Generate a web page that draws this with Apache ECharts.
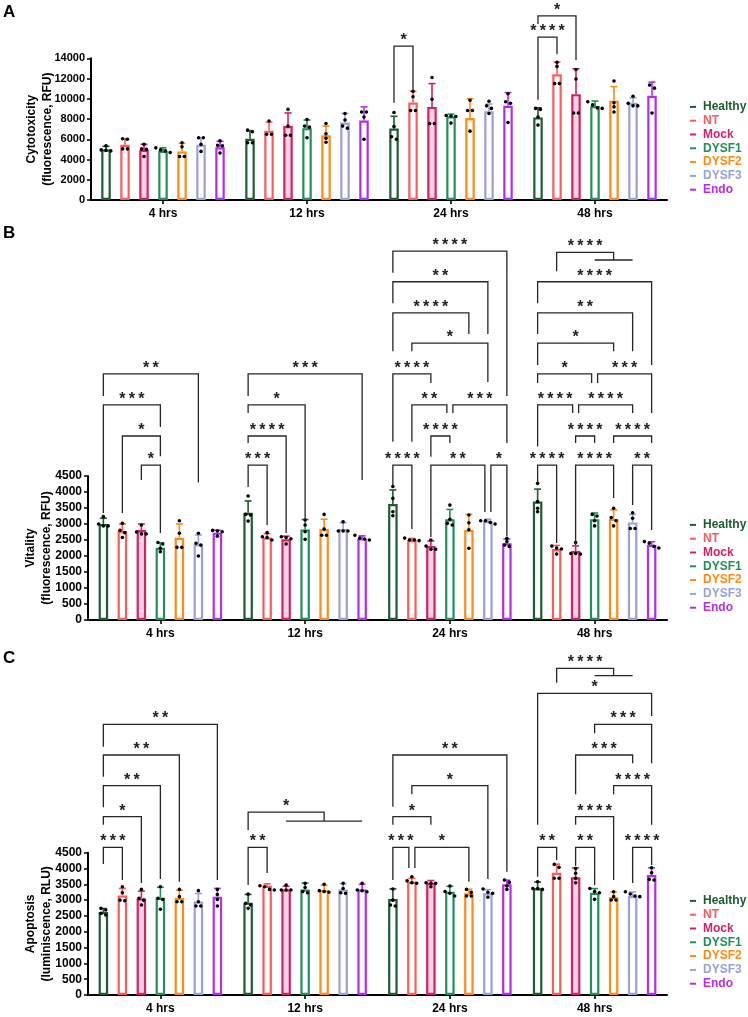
<!DOCTYPE html>
<html><head><meta charset="utf-8">
<script src="https://cdn.jsdelivr.net/npm/echarts@6/dist/echarts.min.js"></script>
<style>html,body{margin:0;padding:0;background:#fff}#c{width:748px;height:1017px}</style>
</head><body><div id="c"></div>
<script>
// ---------------- DATA ----------------
const groups = ['Healthy','NT','Mock','DYSF1','DYSF2','DYSF3','Endo'];
const timepoints = ['4 hrs','12 hrs','24 hrs','48 hrs'];

const cytoTicks = [0,2000,4000,6000,8000,10000,12000,14000];
const vitaTicks = [0,500,1000,1500,2000,2500,3000,3500,4000,4500];
const apopTicks = [0,500,1000,1500,2000,2500,3000,3500,4000,4500];

// means [group][timepoint]
const cytoMean = [
  [5000,6050,7070,8160],[5450,6850,9630,12430],[4950,7300,9200,10460],[4850,7100,8280,9280],
  [4800,6400,8100,9800],[5450,7650,8780,9600],[5200,7850,9310,10300]];
const cytoSD = [
  [300,800,1200,950],[600,850,1100,1200],[550,1300,2300,2500],[300,800,200,500],
  [800,900,1900,1400],[700,900,700,500],[600,1350,1300,1350]];
const cytoPts = [
  [[5350,4950,4900,4850],[6900,6750,5650,5650],[8650,7250,6250,6000],[9050,8950,8200,7400]],
  [[6050,6000,5050,5050],[7800,6500,6500],[10750,10200,8850,8850],[13600,13200,11500,11500]],
  [[5500,5050,5000,4300],[8950,7300,6400,6400],[12100,9950,7550,7550],[12900,11950,8600,8600]],
  [[5150,4950,4850,4700],[7950,7300,7200,6150],[8350,8300,8250,7600],[9700,9400,9100,9050]],
  [[5650,5250,4300,4300],[7550,6550,6100,5700],[9850,8850,8850,6800],[11750,9600,9200,8700]],
  [[6150,6150,5500,4800],[8550,7900,7300,7100],[9750,9300,9050,8550],[10250,9550,9300,9300]],
  [[5850,5400,5350,4650],[8700,8700,8200,6000],[10500,9700,9550,7650],[11350,11050,8600]]];

const vitaMean = [
  [3000,3350,3625,3700],[2780,2580,2500,2220],[2810,2520,2310,2155],[2260,2830,3145,3145],
  [2570,2840,2810,3160],[2365,2840,3090,3050],[2730,2550,2400,2345]];
const vitaSD = [
  [180,370,440,390],[220,120,50,110],[190,100,160,160],[150,310,310,200],
  [430,310,490,280],[290,200,60,250],[80,80,130,100]];
const vitaPts = [
  [[3230,3000,2940,2940],[3875,3300,3280,3090],[4170,3800,3385,3260],[4270,3700,3490,3385]],
  [[3020,2800,2730,2580],[2730,2600,2580,2500],[2560,2500,2500,2480],[2310,2250,2220,2060]],
  [[2970,2750,2690,2690],[2600,2580,2540,2375],[2500,2310,2210,2210],[2420,2080,2080,2060]],
  [[2420,2375,2240,2135],[3125,2970,2760,2520],[3590,3150,3020,2970],[3300,3250,3100,2940]],
  [[3100,2710,2270,2270],[3300,2840,2650,2650],[3280,3040,2820,2240],[3490,3200,3100,2940]],
  [[2710,2400,2340,2000],[3070,2780,2780,2780],[3100,3100,3050,3000],[3350,3180,2860,2860]],
  [[2800,2780,2760,2620],[2650,2560,2530,2500],[2550,2450,2340,2300],[2450,2400,2300,2250]]];

const apopMean = [
  [2624,2920,3035,3372],[3150,3456,3583,3867],[3055,3340,3550,3720],[3077,3340,3267,3235],
  [3066,3320,3214,3088],[2960,3340,3214,3130],[3110,3340,3500,3793]];
const apopSD = [
  [110,260,320,200],[220,60,110,270],[230,100,70,300],[330,200,170,130],
  [250,150,130,170],[250,180,120,130],[260,160,130,230]];
const apopPts = [
  [[2740,2690,2580,2530],[3190,2900,2845,2740],[3350,3000,2845,2815],[3580,3370,3370,3340]],
  [[3425,3235,3000,2980],[3456,3425,3340,3320],[3740,3610,3550,3530],[4130,4036,3690,3690]],
  [[3340,3056,3000,2845],[3477,3320,3320,3320],[3550,3530,3530,3425],[4000,3850,3690,3550]],
  [[3425,3056,3020,2710],[3530,3400,3270,3235],[3445,3270,3214,3130],[3370,3270,3235,3024]],
  [[3340,3110,2950,2950],[3500,3300,3270,3250],[3340,3250,3130,3130],[3267,3110,3003,3003]],
  [[3300,2950,2815,2815],[3530,3370,3235,3214],[3350,3250,3214,3090],[3267,3193,3130,3110]],
  [[3340,3180,3020,2815],[3530,3320,3298,3267],[3635,3560,3446,3340],[4025,3867,3656,3635]]];

// significance brackets: [timepoint, groupA, groupB (or [from,to] pooled), lineValue, legA end, legB end (or pooled bar), label, dxA, dxB]
const cytoSig = [
  [2,0,1,15200,9600,10900,'*'],
  [3,0,1,16100,9900,14400,'****'],
  [3,0,2,18200,17400,13800,'*']];
const vitaSig = [
  [0,0,5,7690,7000,4300,'**'],
  [0,0,3,6720,3340,6030,'***'],
  [0,1,3,5750,3340,5120,'*'],
  [0,2,3,4840,4375,2720,'*'],
  [1,0,6,7690,7000,4375,'***'],
  [1,0,3,6720,6470,3125,'*'],
  [1,0,2,5750,5530,2720,'****'],
  [1,0,1,4840,4156,2970,'***'],
  [2,0,6,11530,10850,7000,'****'],
  [2,0,5,10570,9900,8940,'**'],
  [2,0,4,9600,8400,8940,'****'],
  [2,1,5,8650,8400,7440,'*'],
  [2,0,2,7690,5570,7410,'****'],
  [2,1,3,6720,5570,6470,'**',0,-3],
  [2,3,6,6720,6470,5530,'***',3,0],
  [2,2,3,5750,5100,5530,'****'],
  [2,0,1,4840,4220,2840,'****'],
  [2,2,5,4840,2590,3375,'**',0,-3],
  [2,5,6,4840,3375,2625,'*',3,0],
  [3,1,[3,5],11490,10900,11250,'****'],
  [3,0,6,10570,9900,7970,'****'],
  [3,0,5,9600,8940,8400,'**'],
  [3,0,4,8650,7970,8400,'*'],
  [3,0,3,7690,7410,7410,'*',0,-3],
  [3,3,6,7690,7410,6470,'***',3,0],
  [3,0,2,6720,5420,6470,'****',0,-3],
  [3,2,5,6720,6470,6470,'****',3,0],
  [3,2,3,5750,5530,5530,'****'],
  [3,4,6,5750,5530,5530,'****'],
  [3,0,1,4840,4280,2410,'****'],
  [3,2,4,4840,2340,3810,'****'],
  [3,5,6,4840,3590,2810,'**']];
const apopSig = [
  [0,0,6,8560,7850,3640,'**'],
  [0,0,4,7590,6900,3580,'**'],
  [0,0,3,6620,5940,3670,'**'],
  [0,0,2,5640,5380,3540,'*'],
  [0,0,1,4670,4140,3640,'***'],
  [1,0,[2,6],5780,5220,5500,'*'],
  [1,0,1,4670,3480,3860,'**'],
  [2,0,6,7590,5950,3900,'**'],
  [2,1,5,6620,6350,3670,'*'],
  [2,0,2,5640,5380,5380,'*'],
  [2,0,1,4670,3640,4020,'***',0,-3],
  [2,1,4,4670,4020,3580,'*',3,0],
  [3,1,[3,5],10330,9875,10100,'****'],
  [3,0,6,9540,5380,8820,'*'],
  [3,3,6,8560,8280,7330,'***'],
  [3,2,5,7590,6350,7330,'***'],
  [3,4,6,6620,6350,5380,'****'],
  [3,2,4,5640,5380,3640,'****'],
  [3,0,1,4670,3740,4270,'**'],
  [3,2,3,4670,4080,3480,'**'],
  [3,5,6,4670,3540,4110,'****']];

// ---------------- STYLE / LAYOUT ----------------
const FONT = '"Liberation Sans", Arial, Helvetica, sans-serif';
const COLORS = ['#1b5c30','#ff5a5a','#d61f6a','#1f8f5b','#ff8a14','#98a1d8','#b32cf0'];
const FILLS  = ['#ffffff','#ffffff','#f9d4e4','#ffffff','#ffffff','#ffffff','#ffffff'];
const BW = 9.5, GAP = 1.0, STEP = BW * (1 + GAP);
const STAR_SIZE = 16;
const STAR_SEP = '\u2009';

const panels = [
  {letter:'A', letterTop:4, mean:cytoMean, sd:cytoSD, pts:cytoPts, sig:cytoSig, ticks:cytoTicks,
   name:'Cytotoxicity\n(fluorescence, RFU)', grid:{left:91, top:58.3, width:576, height:141.7},
   legendTop:100, nameGap:35, labelSize:11},
  {letter:'B', letterTop:225, mean:vitaMean, sd:vitaSD, pts:vitaPts, sig:vitaSig, ticks:vitaTicks,
   name:'Vitality\n(fluorescence, RFU)', grid:{left:88, top:476, width:579, height:144},
   legendTop:518, nameGap:33, labelSize:12},
  {letter:'C', letterTop:650, mean:apopMean, sd:apopSD, pts:apopPts, sig:apopSig, ticks:apopTicks,
   name:'Apoptosis\n(luminiscence, RLU)', grid:{left:88, top:852.7, width:579, height:142.3},
   legendTop:894, nameGap:33, labelSize:12}
];

function decoRender(p){
  return function(params, api){
    const g = api.value(0), m = api.value(1), s = api.value(2), i = api.value(3);
    const base = api.coord([g, m]);
    const x = base[0] + (i - 3) * STEP;
    const yTop = api.coord([g, m + s])[1];
    const col = COLORS[i];
    const ch = [
      {type:'line', shape:{x1:x, y1:base[1], x2:x, y2:yTop}, style:{stroke:col, lineWidth:1.6}},
      {type:'line', shape:{x1:x-3.5, y1:yTop, x2:x+3.5, y2:yTop}, style:{stroke:col, lineWidth:1.6}}
    ];
    const ys = p.pts[i][g].map(v => api.coord([g, v])[1]).sort((a,b)=>a-b);
    let k = 0;
    while (k < ys.length) {
      let j = k;
      while (j + 1 < ys.length && ys[j+1] - ys[j] < 3.2) j++;
      const n = j - k + 1;
      for (let q = 0; q < n; q++) {
        ch.push({type:'circle', shape:{cx:x + (q - (n-1)/2) * 4.8, cy:ys[k+q], r:1.8}, style:{fill:'#000'}});
      }
      k = j + 1;
    }
    return {type:'group', children:ch};
  };
}

function sigRender(list){
  return function(params, api){
    const b = list[params.dataIndex];
    const g = b[0], a = b[1], bb = b[2];
    const cx = api.coord([g, 0])[0];
    const xOf = i => cx + (i - 3) * STEP;
    const yp = v => api.coord([g, v])[1];
    const Y = yp(b[3]);
    const ls = {stroke:'#262626', lineWidth:1.3, fill:null, lineJoin:'miter', lineCap:'butt'};
    const ch = [];
    let mid;
    if (Array.isArray(bb)) {
      const x1 = xOf(a), xl = xOf(bb[0]), xr = xOf(bb[1]), xs = (xl + xr) / 2;
      const low = yp(b[5]);
      ch.push({type:'polyline', shape:{points:[[x1, yp(b[4])],[x1, Y],[xs, Y],[xs, low]]}, style:ls});
      ch.push({type:'line', shape:{x1:xl, y1:low, x2:xr, y2:low}, style:ls});
      mid = (x1 + xs) / 2;
    } else {
      const x1 = xOf(a) + (b[7] || 0), x2 = xOf(bb) + (b[8] || 0);
      ch.push({type:'polyline', shape:{points:[[x1, yp(b[4])],[x1, Y],[x2, Y],[x2, yp(b[5])]]}, style:ls});
      mid = (x1 + x2) / 2;
    }
    ch.push({type:'text', style:{text:b[6].split('').join(STAR_SEP), x:mid, y:Y - 0.33 * STAR_SIZE, align:'center', verticalAlign:'middle',
      font:'bold ' + STAR_SIZE + 'px ' + FONT, fill:'#222'}});
    return {type:'group', children:ch};
  };
}

const option = {
  animation:false,
  backgroundColor:'#fff',
  textStyle:{fontFamily:FONT},
  title: panels.map(p => ({text:p.letter, left:3, top:p.letterTop, padding:0,
    textStyle:{fontSize:17, fontWeight:'bold', color:'#000', fontFamily:FONT}})),
  legend: panels.map(p => ({
    orient:'vertical', left:690, top:p.legendTop, itemWidth:6, itemHeight:2, itemGap:0, icon:'rect',
    selectedMode:false, padding:0,
    textStyle:{fontSize:12, fontWeight:'bold', fontFamily:FONT, lineHeight:13.8, padding:[0,0,0,2]},
    data: groups.map((n,i) => ({name:n, itemStyle:{color:COLORS[i], borderWidth:0}, textStyle:{color:COLORS[i]}}))
  })),
  grid: panels.map(p => p.grid),
  xAxis: panels.map((p,k) => ({
    gridIndex:k, type:'category', data:timepoints,
    axisLine:{show:true, lineStyle:{color:'#000', width:2}},
    axisTick:{show:true, alignWithLabel:true, length:4, lineStyle:{color:'#000', width:1.6}},
    axisLabel:{fontSize:12, fontWeight:'bold', color:'#000', margin:8, fontFamily:FONT},
    splitLine:{show:false}
  })),
  yAxis: panels.map((p,k) => ({
    gridIndex:k, type:'value', min:p.ticks[0], max:p.ticks[p.ticks.length-1], interval:p.ticks[1]-p.ticks[0],
    axisLine:{show:true, lineStyle:{color:'#000', width:2}},
    axisTick:{show:true, length:4, lineStyle:{color:'#000', width:1.5}},
    axisLabel:{fontSize:p.labelSize, fontWeight:'bold', color:'#000', margin:6, fontFamily:FONT,
      formatter: v => String(v)},
    splitLine:{show:false},
    name:p.name, nameLocation:'middle', nameGap:p.nameGap, nameRotate:90, nameMoveOverlap:false,
    nameTextStyle:{fontSize:12, fontWeight:'bold', color:'#000', lineHeight:16, fontFamily:FONT, align:'center'}
  })),
  series: []
};

panels.forEach((p,k) => {
  groups.forEach((n,i) => {
    option.series.push({
      type:'bar', name:n, xAxisIndex:k, yAxisIndex:k, data:p.mean[i], barWidth:BW, barGap:(GAP*100)+'%',
      itemStyle:{color:FILLS[i], borderColor:COLORS[i], borderWidth:2.2}, silent:true, z:2
    });
  });
  const deco = [];
  for (let i = 0; i < 7; i++) for (let g = 0; g < 4; g++) deco.push([g, p.mean[i][g], p.sd[i][g], i]);
  option.series.push({type:'custom', xAxisIndex:k, yAxisIndex:k, data:deco, encode:{x:0, y:1},
    renderItem:decoRender(p), silent:true, z:4, clip:false});
  option.series.push({type:'custom', xAxisIndex:k, yAxisIndex:k, data:p.sig.map(b => [b[0], b[3]]), encode:{x:0, y:1},
    renderItem:sigRender(p.sig), silent:true, z:5, clip:false});
});

const chart = echarts.init(document.getElementById('c'), null, {renderer:'canvas'});
chart.setOption(option);
</script>
</body></html>
